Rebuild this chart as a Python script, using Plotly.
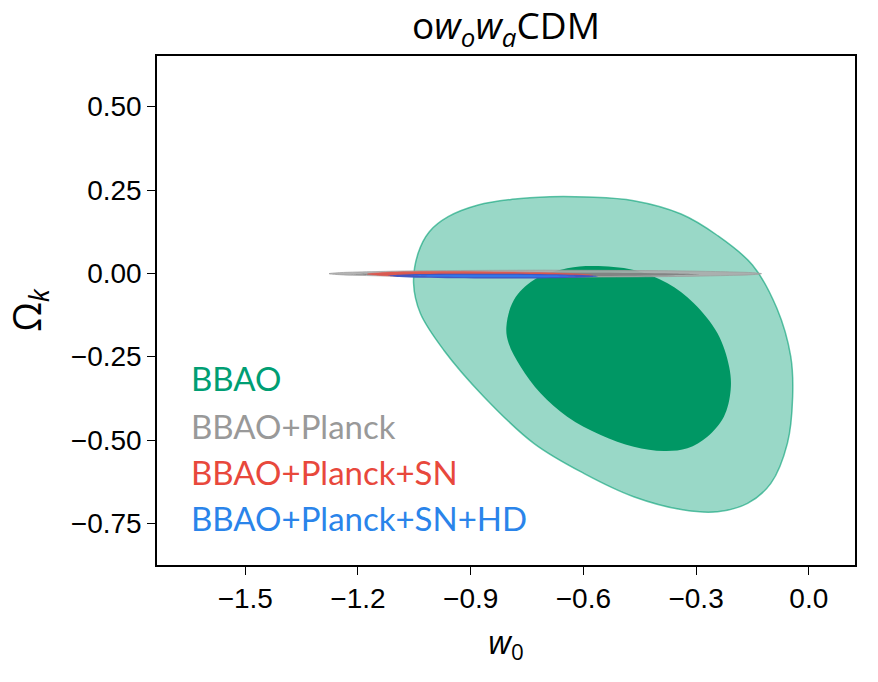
import plotly.graph_objects as go

# ---- data: contour vertices (w0, Omega_k) ----
bbao_2s_w0 = [-1.052, -1.040, -1.010, -0.960, -0.880, -0.790, -0.690, -0.590, -0.466, -0.340, -0.245,
              -0.150, -0.085, -0.048, -0.043, -0.057, -0.101, -0.163, -0.243, -0.332, -0.466,
              -0.599, -0.732, -0.865, -0.972, -1.034]
bbao_2s_ok = [-0.030, 0.060, 0.125, 0.170, 0.205, 0.222, 0.230, 0.229, 0.218, 0.178, 0.115,
              0.025, -0.105, -0.250, -0.370, -0.510, -0.630, -0.690, -0.715, -0.710, -0.670,
              -0.600, -0.510, -0.370, -0.230, -0.120]

bbao_1s_w0 = [-0.805, -0.785, -0.732, -0.643, -0.572, -0.466, -0.376, -0.306, -0.243, -0.212,
              -0.208, -0.226, -0.270, -0.323, -0.386, -0.466, -0.554, -0.643, -0.714, -0.767, -0.799]
bbao_1s_ok = [-0.160, -0.080, -0.020, 0.015, 0.022, 0.010, -0.030, -0.090, -0.180, -0.280,
              -0.350, -0.430, -0.490, -0.525, -0.533, -0.520, -0.485, -0.430, -0.360, -0.280, -0.210]

planck_2s_w0 = [-1.277, -1.25, -1.20, -1.10, -1.00, -0.85, -0.70, -0.55, -0.40, -0.30, -0.20, -0.15, -0.126,
                -0.15, -0.20, -0.30, -0.40, -0.55, -0.70, -0.85, -1.00, -1.10, -1.20, -1.25]
planck_2s_ok = [-0.001, 0.002, 0.004, 0.0065, 0.008, 0.009, 0.0095, 0.009, 0.008, 0.0065, 0.004, 0.002, -0.001,
                -0.004, -0.006, -0.0085, -0.010, -0.011, -0.0115, -0.011, -0.010, -0.0085, -0.006, -0.004]

planck_1s_w0 = [-1.22, -1.15, -1.05, -0.90, -0.755, -0.60, -0.46, -0.36, -0.29,
                -0.36, -0.46, -0.60, -0.755, -0.90, -1.05, -1.15]
planck_1s_ok = [-0.003, -0.0004, 0.0009, 0.0018, 0.002, 0.0018, 0.0009, -0.0004, -0.003,
                -0.0056, -0.0069, -0.0078, -0.008, -0.0078, -0.0069, -0.0056]

sn_2s_w0 = [-1.175, -1.14, -1.08, -0.98, -0.875, -0.77, -0.67, -0.61, -0.575,
            -0.61, -0.67, -0.77, -0.875, -0.98, -1.08, -1.14]
sn_2s_ok = [-0.002, 0.002, 0.0045, 0.0055, 0.005, 0.0035, 0.001, -0.002, -0.006,
            -0.010, -0.012, -0.013, -0.013, -0.0115, -0.009, -0.0065]

hd_2s_w0 = [-1.119, -1.09, -1.03, -0.94, -0.84, -0.74, -0.65, -0.59, -0.562,
            -0.59, -0.65, -0.74, -0.84, -0.94, -1.03, -1.09]
hd_2s_ok = [-0.007, -0.004, -0.002, -0.001, -0.001, -0.002, -0.0035, -0.006, -0.009,
            -0.012, -0.014, -0.0155, -0.0158, -0.015, -0.0135, -0.011]

hd_1s_w0 = [-1.06, -1.00, -0.92, -0.84, -0.76, -0.68, -0.62,
            -0.68, -0.76, -0.84, -0.92, -1.00]
hd_1s_ok = [-0.0075, -0.0052, -0.0043, -0.0043, -0.0048, -0.006, -0.0085,
            -0.0108, -0.0118, -0.012, -0.0117, -0.0106]

legend_labels = ["BBAO", "BBAO+Planck", "BBAO+Planck+SN", "BBAO+Planck+SN+HD"]
legend_colors = ["#009E73", "#999999", "#E8483C", "#2A84EA"]

x_ticks = [-1.5, -1.2, -0.9, -0.6, -0.3, 0.0]
x_tick_text = ["\u22121.5", "\u22121.2", "\u22120.9", "\u22120.6", "\u22120.3", "0.0"]
y_ticks = [0.50, 0.25, 0.00, -0.25, -0.50, -0.75]
y_tick_text = ["0.50", "0.25", "0.00", "\u22120.25", "\u22120.50", "\u22120.75"]
x_range = [-1.735, 0.123]
y_range = [-0.875, 0.652]

fig = go.Figure()


def closed(a):
    return list(a) + [a[0]]


def blob(xs, ys, fill, line_color=None, lw=0):
    fig.add_trace(go.Scatter(
        x=closed(xs), y=closed(ys), mode="lines", fill="toself", fillcolor=fill,
        line=dict(color=line_color or "rgba(0,0,0,0)", width=lw, shape="spline", smoothing=1.0),
        hoverinfo="skip", showlegend=False))


blob(bbao_2s_w0, bbao_2s_ok, "rgba(0,158,115,0.40)", "rgba(0,158,115,0.6)", 1.5)
blob(bbao_1s_w0, bbao_1s_ok, "#009764")
blob(planck_2s_w0, planck_2s_ok, "rgba(172,172,172,0.9)", "rgba(155,155,155,0.9)", 0.8)
blob(planck_1s_w0, planck_1s_ok, "rgba(125,125,125,0.85)")
blob(sn_2s_w0, sn_2s_ok, "rgba(225,85,75,0.92)", "rgba(225,85,75,0.8)", 0.6)
blob(hd_2s_w0, hd_2s_ok, "rgba(55,85,200,0.92)")
blob(hd_1s_w0, hd_1s_ok, "rgba(50,120,235,0.95)")

# legend text
leg_y_px = [378, 426, 472, 517.5]
for lab, col, ypx in zip(legend_labels, legend_colors, leg_y_px):
    fig.add_annotation(
        x=(189 - 157) / 698, xref="paper", xanchor="left",
        y=(565 - ypx) / 509, yref="paper", yanchor="middle",
        text=lab, showarrow=False, font=dict(family="Lato", size=33, color=col))

fig.update_layout(
    width=878, height=682,
    margin=dict(l=157, r=23, t=56, b=117),
    paper_bgcolor="white", plot_bgcolor="white",
    title=dict(text="o<i>w</i><sub><i>o</i></sub><i>w</i><sub><i>a</i></sub>CDM",
               x=0.5, xref="paper", xanchor="center",
               y=1 - 26 / 682, yref="container", yanchor="middle",
               font=dict(family="Open Sans", size=37, color="black")),
    font=dict(family="Liberation Sans", color="black"),
)
fig.update_xaxes(
    range=x_range, tickvals=x_ticks, ticktext=x_tick_text,
    showgrid=False, zeroline=False, showline=True, linecolor="black", linewidth=1.5, mirror=True,
    ticks="outside", ticklen=8, tickwidth=1.3, tickcolor="black",
    tickfont=dict(family="Liberation Sans", size=28),
    title=dict(text="<i>w</i><sub>0</sub>", font=dict(family="Open Sans", size=32), standoff=18))
fig.update_yaxes(
    range=y_range, tickvals=y_ticks, ticktext=y_tick_text,
    showgrid=False, zeroline=False, showline=True, linecolor="black", linewidth=1.5, mirror=True,
    ticks="outside", ticklen=8, tickwidth=1.3, tickcolor="black",
    tickfont=dict(family="Liberation Sans", size=28),
    title=dict(text="\u03a9<sub><i>k</i></sub>", font=dict(family="Open Sans", size=38), standoff=20))

fig.write_html("out.html")
